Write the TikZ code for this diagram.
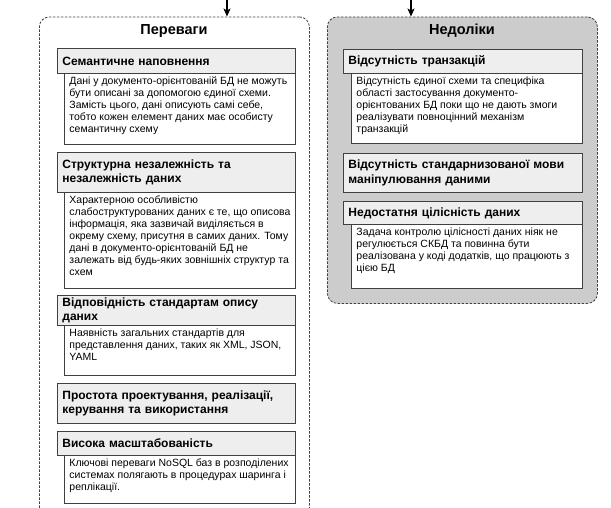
\documentclass[tikz,border=0pt]{standalone}
\usepackage{fontspec}
\setmainfont{Liberation Sans}
\usetikzlibrary{arrows.meta}
\definecolor{hdrfill}{HTML}{EEEEEE}
\definecolor{contfill}{HTML}{CCCCCC}
\definecolor{edgec}{HTML}{404040}
\newcommand\bodytxt[2]{\parbox[t][#1][t]{221pt}{\raggedright #2}}
\begin{document}
\begin{tikzpicture}[x=1pt,y=-1pt,
  cont/.style={draw=edgec, dash pattern=on 2.5pt off 1.5pt, line width=0.8pt,
    rounded corners=10pt, anchor=north west, minimum width=270pt, inner sep=0pt},
  ttl/.style={font=\bfseries\fontsize{14.5}{17}\selectfont},
  hdr/.style={draw=edgec, fill=hdrfill, line width=0.9pt, anchor=north west,
    inner xsep=5pt, inner ysep=0pt, align=left,
    font=\bfseries\fontsize{12}{14.3}\selectfont},
  lhdr/.style={hdr, text width=228pt},
  rhdr/.style={hdr, text width=229pt},
  bodybox/.style={draw=edgec, fill=white, line width=0.9pt, anchor=north west,
    inner xsep=5pt, inner ysep=3pt,
    font=\fontsize{10.5}{12}\selectfont},
  arr/.style={draw=black, line width=1.1pt, -{Stealth[length=8pt,width=7pt,inset=2pt]}}
]
\useasboundingbox (0,0) rectangle (611,507);
\clip (0,0) rectangle (611,507);

% containers
\node[cont, minimum height=530pt] (lc) at (39,16.5) {};
\node[cont, fill=contfill, minimum height=286.5pt] (rc) at (327,16.5) {};

% arrows
\coordinate (la) at (227,0);
\coordinate (ra) at (411,0);
\draw[arr] (la) -- (la |- lc.north);
\draw[arr] (ra) -- (ra |- rc.north);

% titles
\node[ttl] (lt) at (174,31) {Переваги};
\node[ttl] (rt) at (462,31) {Недоліки};

% left column
\node[bodybox] (l1b) at (64,73) {\bodytxt{65pt}{Дані у документо-орієнтованій БД не можуть\\
бути описані за допомогою єдиної схеми.\\
Замість цього, дані описують самі себе,\\
тобто кожен елемент даних має особисту\\
семантичну схему}};
\node[lhdr, minimum height=25pt] (l1h) at (57,48) {Семантичне наповнення};

\node[bodybox] (l2b) at (64,192) {\bodytxt{90pt}{Характерною особливістю\\
слабоструктурованих даних є те, що описова\\
інформація, яка зазвичай виділяється в\\
окрему схему, присутня в самих даних. Тому\\
дані в документо-орієнтованій БД не\\
залежать від будь-яких зовнішніх структур та\\
схем}};
\node[lhdr, minimum height=40pt] (l2h) at (57,152) {Структурна незалежність та\\незалежність даних};

\node[bodybox] (l3b) at (64,325) {\bodytxt{44pt}{Наявність загальних стандартів для\\
представлення даних, таких як XML, JSON,\\
YAML}};
\node[lhdr, minimum height=30pt] (l3h) at (57,295) {Відповідність стандартам опису\\даних};

\node[lhdr, minimum height=40pt] (l4h) at (57,383) {Простота проектування, реалізації,\\керування та використання};

\node[bodybox] (l5b) at (64,455) {\bodytxt{42pt}{Ключові переваги NoSQL баз в розподілених\\
системах полягають в процедурах шаринга і\\
реплікації.}};
\node[lhdr, minimum height=24pt] (l5h) at (57,431) {Висока масштабованість};

% right column
\node[bodybox] (r1b) at (351,73) {\bodytxt{64pt}{Відсутність єдиної схеми та специфіка\\
області застосування документо-\\
орієнтованих БД поки що не дають змоги\\
реалізувати повноцінний механізм\\
транзакцій}};
\node[rhdr, minimum height=24pt] (r1h) at (343,49) {Відсутність транзакцій};

\node[rhdr, minimum height=39pt] (r2h) at (343,153) {Відсутність стандарнизованої мови\\маніпулювання даними};

\node[bodybox] (r3b) at (351,224) {\bodytxt{58pt}{Задача контролю цілісності даних ніяк не\\
регулюється СКБД та повинна бути\\
реалізована у коді додатків, що працюють з\\
цією БД}};
\node[rhdr, minimum height=23pt] (r3h) at (343,201) {Недостатня цілісність даних};
\end{tikzpicture}
\end{document}
